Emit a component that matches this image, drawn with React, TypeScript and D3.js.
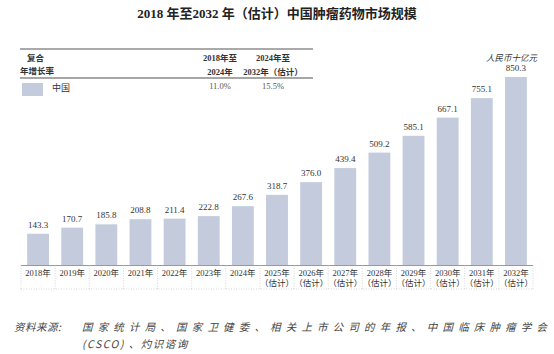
import React from "react";
import * as d3 from "d3";

const years = ["2018", "2019", "2020", "2021", "2022", "2023", "2024", "2025", "2026", "2027", "2028", "2029", "2030", "2031", "2032"];
const estimated = [false, false, false, false, false, false, false, true, true, true, true, true, true, true, true];
const values = [143.3, 170.7, 185.8, 208.8, 211.4, 222.8, 267.6, 318.7, 376.0, 439.4, 509.2, 585.1, 667.1, 755.1, 850.3];
const cagrHeaders = [["2018年至", "2024年"], ["2024年至", "2032年（估计）"]];
const cagrValues = ["11.0%", "15.5%"];

const W = 554;
const H = 354;
const FONT = "'Liberation Serif', 'DejaVu Serif', 'Noto Sans CJK SC', serif";
const CJK = "'Noto Sans CJK SC', sans-serif";
const BAR = "#c3cbdd";

export default function App() {
  const baseline = 265.5;
  const x = d3.scaleBand().domain(years).range([21, 533]).paddingInner(0.36).paddingOuter(0.18);
  const y = d3.scaleLinear().domain([0, 850.3]).range([baseline, 77]);
  const step = x.step();
  const left = x(years[0])! - (step - x.bandwidth()) / 2;
  const right = x(years[years.length - 1])! + x.bandwidth() + (step - x.bandwidth()) / 2;
  const cagrX = [220, 273];

  return (
    <svg width={W} height={H} style={{ position: "absolute", left: 0, top: 0 }}>
      <rect width={W} height={H} fill="#fff" />
      <text x={277} y={18} textAnchor="middle" fontFamily={FONT} fontWeight="bold" fontSize={13} fill="#222">
        2018 年至2032 年（估计）中国肿瘤药物市场规模
      </text>

      {/* CAGR table */}
      <line x1={20} x2={313} y1={49} y2={49} stroke="#555" strokeWidth={1} />
      <line x1={20} x2={313} y1={78} y2={78} stroke="#888" strokeWidth={1.5} />
      <text x={27} y={61} fontFamily={CJK} fontWeight="bold" fontSize={8.5} fill="#333">复合</text>
      <text x={20} y={74} fontFamily={CJK} fontWeight="bold" fontSize={8.5} fill="#333">年增长率</text>
      {cagrHeaders.map((h, i) => (
        <g key={i} fontFamily={FONT} fontWeight="bold" fontSize={8.5} fill="#333" textAnchor="middle">
          <text x={cagrX[i]} y={61}>{h[0]}</text>
          <text x={cagrX[i]} y={75}>{h[1]}</text>
        </g>
      ))}
      <rect x={22} y={83} width={21} height={13} fill={BAR} />
      <text x={52} y={91} fontFamily={CJK} fontSize={9} fill="#333">中国</text>
      {cagrValues.map((v, i) => (
        <text key={i} x={cagrX[i]} y={89} textAnchor="middle" fontFamily={FONT} fontSize={8.5} fill="#555">{v}</text>
      ))}

      <text x={537} y={61} textAnchor="end" fontFamily={CJK} fontStyle="italic" fontSize={8.5} fill="#333">人民币十亿元</text>

      {/* bars */}
      {values.map((v, i) => (
        <g key={years[i]}>
          <rect x={x(years[i])} y={y(v)} width={x.bandwidth()} height={baseline - y(v)} fill={BAR} />
          <text x={x(years[i])! + x.bandwidth() / 2} y={y(v) - 6} textAnchor="middle" fontFamily={FONT} fontSize={9} fill="#333">
            {v.toFixed(1)}
          </text>
        </g>
      ))}

      {/* axis */}
      <line x1={left} x2={right} y1={baseline} y2={baseline} stroke="#999" strokeWidth={1.2} />
      <line x1={left} x2={right} y1={289} y2={289} stroke="#ccc" strokeWidth={0.8} strokeDasharray="1,1.5" />
      {years.map((yr, i) => (
        <g key={yr}>
          <line x1={left + step * i} x2={left + step * i} y1={baseline} y2={289} stroke="#ccc" strokeWidth={0.8} strokeDasharray="1,1.5" />
          <text x={x(yr)! + x.bandwidth() / 2} y={276} textAnchor="middle" fontFamily={FONT} fontSize={8.5} fill="#333">{yr}年</text>
          {estimated[i] && (
            <text x={x(yr)! + x.bandwidth() / 2} y={286} textAnchor="middle" fontFamily={FONT} fontSize={8.5} fill="#333">（估计）</text>
          )}
        </g>
      ))}
      <line x1={right} x2={right} y1={baseline} y2={289} stroke="#ccc" strokeWidth={0.8} strokeDasharray="1,1.5" />

      {/* source */}
      <g fontFamily={CJK} fontStyle="italic" fontSize={10.5} fill="#444">
        <text x={14} y={331} letterSpacing={0.5}>资料来源:</text>
        <text x={82} y={331} textLength={465} lengthAdjust="spacing">国家统计局、国家卫健委、相关上市公司的年报、中国临床肿瘤学会</text>
        <text x={82} y={348} letterSpacing={1.5}>(CSCO) 、灼识谘询</text>
      </g>
    </svg>
  );
}
